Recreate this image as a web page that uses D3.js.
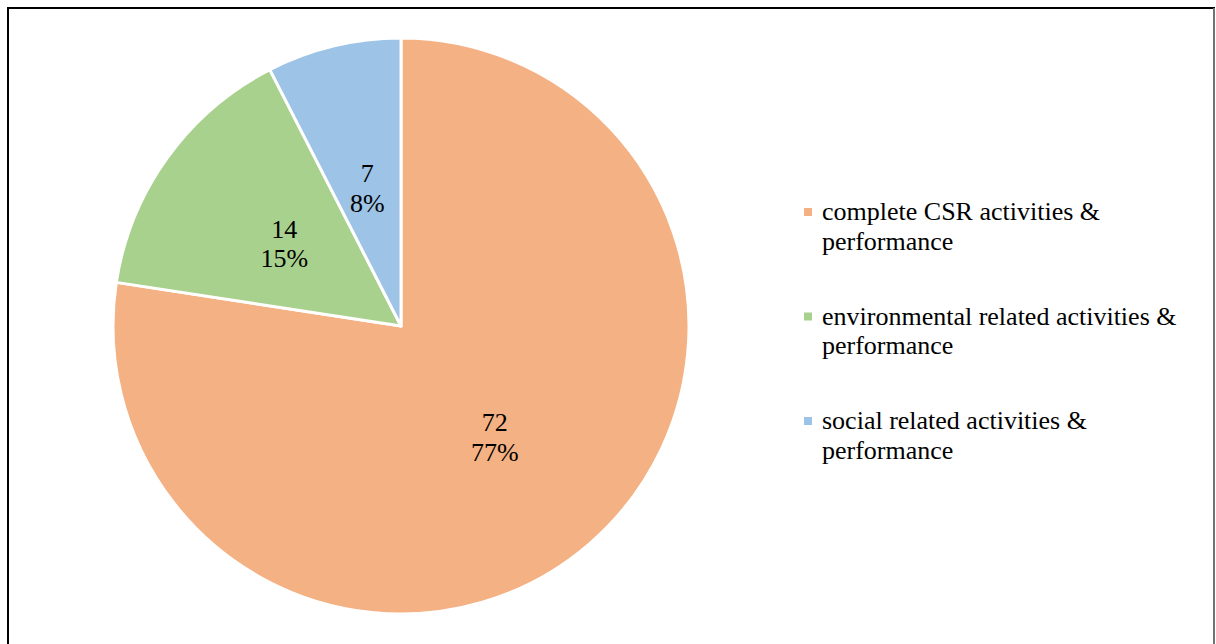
<!DOCTYPE html>
<html>
<head>
<meta charset="utf-8">
<script src="https://cdn.jsdelivr.net/npm/d3@7"></script>
<style>
  html, body { margin: 0; padding: 0; background: #fff; }
  svg { display: block; }
</style>
</head>
<body>
<svg id="chart" width="1216" height="644"></svg>
<script>
// Reporting focus of the sampled companies
const categories = [
  "complete CSR activities & performance",
  "environmental related activities & performance",
  "social related activities & performance"
];
const legendLines = [
  ["complete CSR activities &", "performance"],
  ["environmental related activities &", "performance"],
  ["social related activities &", "performance"]
];
const counts = [72, 14, 7];
const colors = ["#F4B183", "#A9D18E", "#9DC3E6"];

const svg = d3.select("#chart");
const font = "'Liberation Serif', 'Times New Roman', serif";
const fontSize = 26;

// outer frame
svg.append("rect")
  .attr("x", 8).attr("y", 8)
  .attr("width", 1206).attr("height", 660)
  .attr("fill", "#fff")
  .attr("stroke", "#000").attr("stroke-width", 2);
svg.append("line")
  .attr("x1", 1214).attr("x2", 1214).attr("y1", 8).attr("y2", 644)
  .attr("stroke", "#999").attr("stroke-width", 1.5);

const cx = 401, cy = 326, r = 288;
const total = d3.sum(counts);

const pie = d3.pie().sort(null).value(d => d)
  .startAngle(0).endAngle(2 * Math.PI);
const arcs = pie(counts);
const arc = d3.arc().innerRadius(0).outerRadius(r);

const g = svg.append("g").attr("transform", `translate(${cx},${cy})`);

g.selectAll("path.slice")
  .data(arcs)
  .join("path")
  .attr("class", "slice")
  .attr("d", arc)
  .attr("fill", (d, i) => colors[i])
  .attr("stroke", "#fff")
  .attr("stroke-width", 3)
  .attr("stroke-linejoin", "round");

// value and percentage labels at the slice centroids
const labels = g.selectAll("text.lbl")
  .data(arcs)
  .join("text")
  .attr("class", "lbl")
  .attr("transform", d => `translate(${arc.centroid(d)})`)
  .attr("text-anchor", "middle")
  .attr("font-family", font)
  .attr("font-size", fontSize)
  .attr("fill", "#000");
labels.append("tspan")
  .attr("x", 0).attr("y", -4)
  .text(d => d.data);
labels.append("tspan")
  .attr("x", 0).attr("y", 25.5)
  .text(d => Math.round(d.data / total * 100) + "%");

// legend
const legend = svg.append("g").attr("transform", "translate(804,212)");
const item = legend.selectAll("g.item")
  .data(categories)
  .join("g")
  .attr("class", "item")
  .attr("transform", (d, i) => `translate(0,${i * 104.5})`);
item.append("rect")
  .attr("x", 0).attr("y", -4)
  .attr("width", 8).attr("height", 8)
  .attr("fill", (d, i) => colors[i]);
const lt = item.append("text")
  .attr("font-family", font)
  .attr("font-size", fontSize)
  .attr("fill", "#000");
lt.selectAll("tspan")
  .data((d, i) => legendLines[i])
  .join("tspan")
  .attr("x", 18)
  .attr("y", (d, j) => 8 + j * 29.5)
  .text(d => d);
</script>
</body>
</html>
